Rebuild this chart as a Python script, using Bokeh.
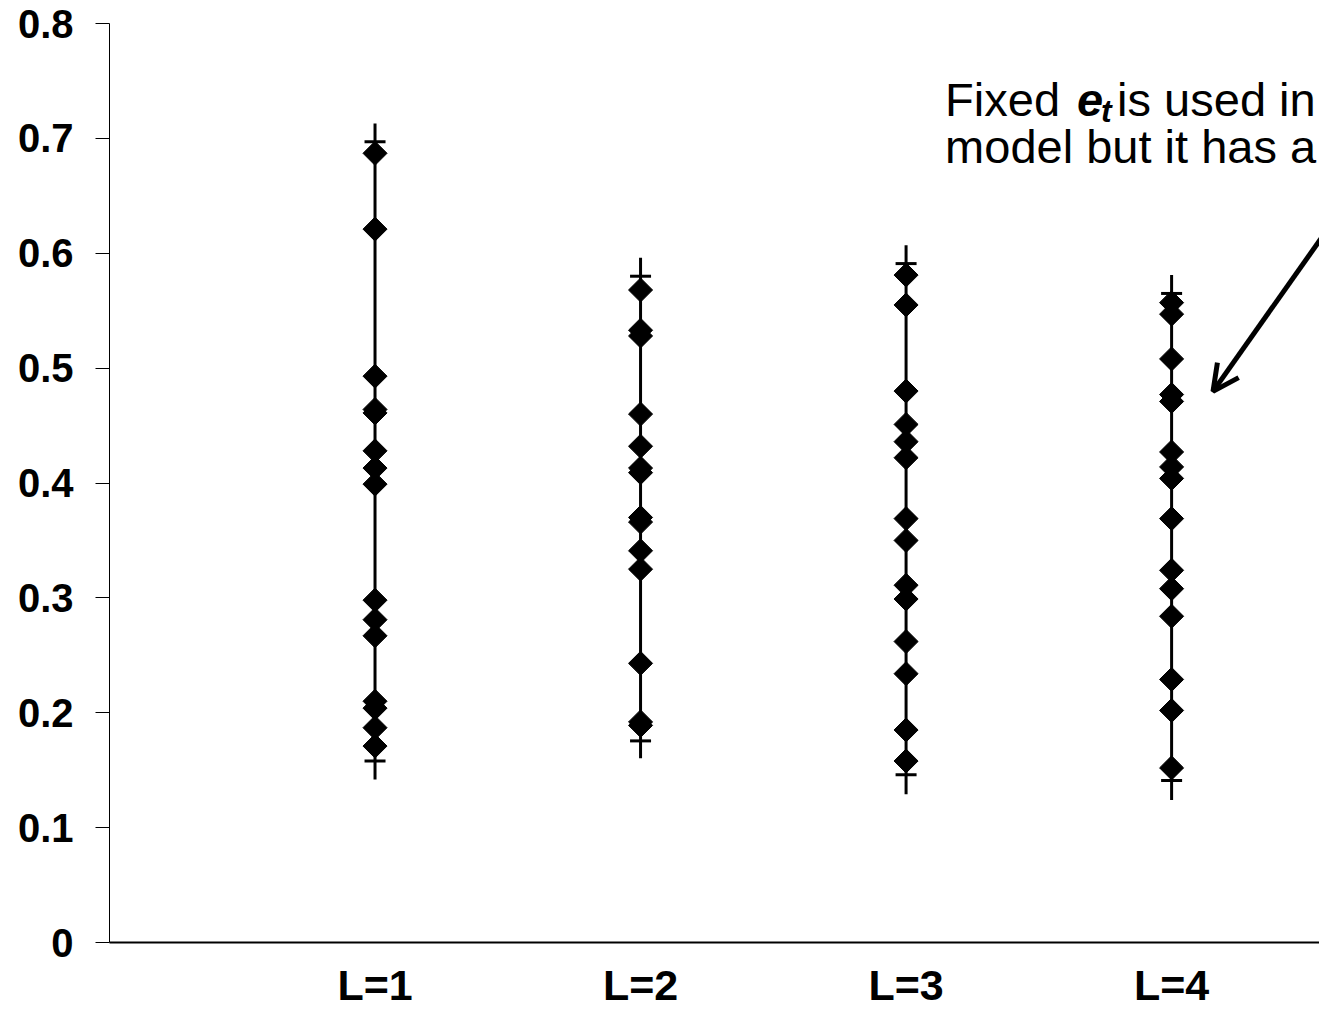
import numpy as np
from bokeh.plotting import figure
from bokeh.models import FixedTicker, Range1d, Arrow, OpenHead, ColumnDataSource
from bokeh.core.properties import value
from bokeh.embed import file_html
from bokeh.resources import INLINE

categories = ["L=1", "L=2", "L=3", "L=4"]
cat_pos = [1, 2, 3, 4]

l1_values = [0.687, 0.621, 0.493, 0.464, 0.461, 0.428, 0.413, 0.399,
             0.298, 0.281, 0.267, 0.210, 0.204, 0.187, 0.171]
l2_values = [0.568, 0.533, 0.528, 0.460, 0.432, 0.413, 0.409, 0.370,
             0.366, 0.341, 0.325, 0.243, 0.192, 0.189]
l3_values = [0.581, 0.555, 0.480, 0.451, 0.436, 0.422, 0.369, 0.350,
             0.311, 0.299, 0.262, 0.234, 0.185, 0.158]
l4_values = [0.557, 0.547, 0.508, 0.477, 0.471, 0.427, 0.414, 0.404,
             0.369, 0.324, 0.308, 0.284, 0.229, 0.202, 0.152]

upper_cap = [0.697, 0.580, 0.591, 0.565]
upper_end = [0.713, 0.596, 0.607, 0.581]
lower_cap = [0.158, 0.1755, 0.146, 0.141]
lower_end = [0.142, 0.1605, 0.129, 0.124]

y_ticks = [0, 0.1, 0.2, 0.3, 0.4, 0.5, 0.6, 0.7, 0.8]
y_tick_labels = ["0", "0.1", "0.2", "0.3", "0.4", "0.5", "0.6", "0.7", "0.8"]

note_line1 = ["Fixed", "e", "t", "is used in"]
note_line2 = "model but it has a"

FONT = "Liberation Sans"

p = figure(width=1319, height=1011, output_backend="svg", toolbar_location=None,
           x_range=Range1d(0, 4.557), y_range=Range1d(0, 0.8),
           min_border_left=109, min_border_top=23, min_border_right=0,
           min_border_bottom=66)
p.outline_line_color = None
p.grid.visible = False
p.background_fill_color = "white"
p.border_fill_color = "white"

# y axis
p.yaxis.ticker = FixedTicker(ticks=y_ticks)
p.yaxis.major_label_overrides = {t: l for t, l in zip(y_ticks, y_tick_labels)}
p.yaxis.major_tick_out = 14
p.yaxis.major_tick_in = 0
p.yaxis.minor_tick_line_color = None
p.yaxis.major_tick_line_color = "black"
p.yaxis.axis_line_color = "black"
p.yaxis.axis_line_width = 1
p.yaxis.major_label_standoff = 22
p.yaxis.major_label_text_font = FONT
p.yaxis.major_label_text_font_style = "bold"
p.yaxis.major_label_text_font_size = "40px"
p.yaxis.major_label_text_color = "black"

# x axis
p.xaxis.ticker = FixedTicker(ticks=cat_pos)
p.xaxis.major_label_overrides = {c: n for c, n in zip(cat_pos, categories)}
p.xaxis.major_tick_line_color = None
p.xaxis.minor_tick_line_color = None
p.xaxis.major_tick_out = 0
p.xaxis.major_tick_in = 0
p.xaxis.axis_line_color = "black"
p.xaxis.axis_line_width = 2
p.xaxis.major_label_standoff = 18
p.xaxis.major_label_text_font = FONT
p.xaxis.major_label_text_font_style = "bold"
p.xaxis.major_label_text_font_size = "43px"
p.xaxis.major_label_text_color = "black"

# high-low lines
p.segment(x0=cat_pos, y0=lower_end, x1=cat_pos, y1=upper_end,
          line_color="black", line_width=3)
# caps
p.scatter(x=cat_pos, y=upper_cap, marker="dash", size=21,
          line_color="black", line_width=3)
p.scatter(x=cat_pos, y=lower_cap, marker="dash", size=21,
          line_color="black", line_width=3)

# diamonds
all_series = [l1_values, l2_values, l3_values, l4_values]
xs, ys = [], []
for pos, vals in zip(cat_pos, all_series):
    xs += [pos] * len(vals)
    ys += vals
src = ColumnDataSource(dict(x=xs, y=ys))
p.scatter(x="x", y="y", source=src, marker="square", size=17, angle=np.pi / 4,
          fill_color="black", line_color="black", line_width=1)

# annotation text
tx = 3.147
y1 = 0.7335
y2 = 0.6925
p.text(x=[tx], y=[y1], text=[note_line1[0]], text_font=value(FONT),
       text_font_size="47px", text_color="black", text_baseline="alphabetic")
p.text(x=[tx], y=[y1], text=[note_line1[1]], x_offset=132, text_font=value(FONT),
       text_font_size="47px", text_font_style="bold italic", text_color="black",
       text_baseline="alphabetic")
p.text(x=[tx], y=[y1], text=[note_line1[2]], x_offset=156, y_offset=11,
       text_font=value(FONT), text_font_size="32px", text_font_style="bold italic",
       text_color="black", text_baseline="alphabetic")
p.text(x=[tx], y=[y1], text=[note_line1[3]], x_offset=172, text_font=value(FONT),
       text_font_size="47px", text_color="black", text_baseline="alphabetic")
p.text(x=[tx], y=[y2], text=[note_line2], text_font=value(FONT),
       text_font_size="47px", text_color="black", text_baseline="alphabetic")

# arrow
p.add_layout(Arrow(x_start=4.597, y_start=0.624, x_end=4.156, y_end=0.4798,
                   line_color="black", line_width=5,
                   end=OpenHead(size=26, line_color="black", line_width=5)))

open("out.html", "w").write(file_html(p, INLINE))
